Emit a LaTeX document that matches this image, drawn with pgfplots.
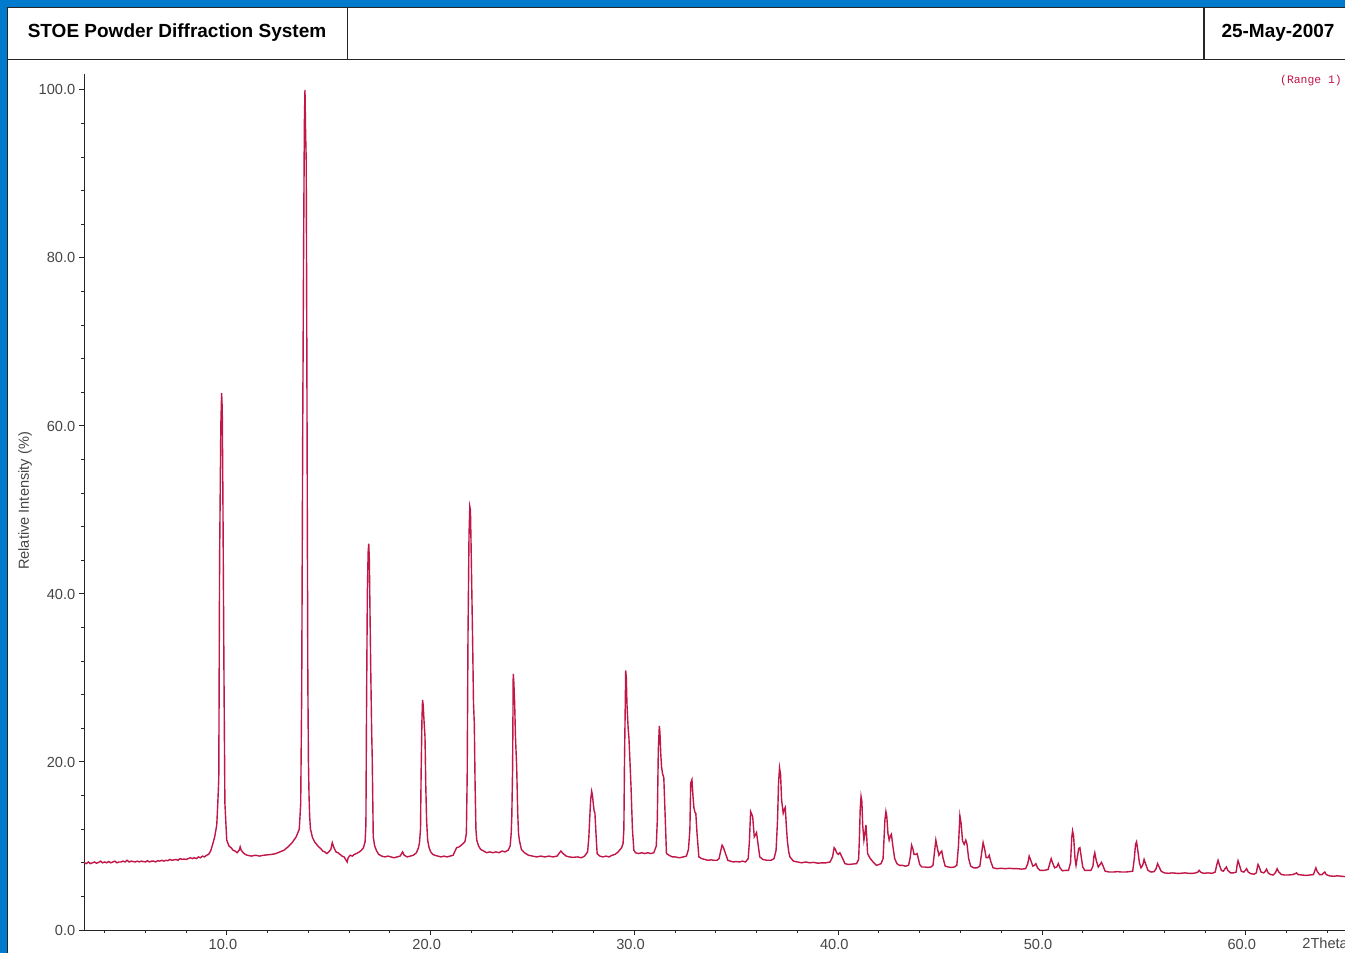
\documentclass[border=0pt]{standalone}
\usepackage{fontspec}
\setmainfont{Liberation Sans}
\newfontfamily\monofont{Liberation Mono}
\usepackage{pgfplots}
\pgfplotsset{compat=1.18}
\definecolor{winblue}{RGB}{0,122,204}
\definecolor{xrd}{RGB}{192,22,72}
\definecolor{ticktext}{RGB}{70,70,70}
\begin{document}
\begin{tikzpicture}[x=0.5pt,y=-0.5pt]
\useasboundingbox (0,0) rectangle (1345,953);
\fill[winblue] (0,0) rectangle (1345,953);
\fill[white] (7,7) rectangle (1350,960);
\draw[black!85, line width=0.6pt] (7.5,960) -- (7.5,7.5) -- (1350,7.5);
\draw[black!85, line width=0.6pt] (7.5,59.5) -- (1350,59.5);
\draw[black!85, line width=0.6pt] (347.5,7.5) -- (347.5,59.5);
\draw[black!85, line width=0.6pt] (1204,7.5) -- (1204,59.5);
\node[font=\bfseries\fontsize{9.5}{11}\selectfont] at (177,33) {STOE Powder Diffraction System};
\node[font=\bfseries\fontsize{9.5}{11}\selectfont] at (1278,33) {25-May-2007};
\node[font=\monofont\fontsize{5.7}{7}\selectfont, text=xrd] at (1311,81) {(Range 1)};
\node[rotate=90, font=\fontsize{7.3}{9}\selectfont, text=ticktext] at (25,501) {Relative Intensity (\%)};
\node[anchor=west, inner sep=0pt, font=\fontsize{7.3}{9}\selectfont, text=ticktext] at (1302,943) {2Theta};
\begin{axis}[
  at={(42.15pt,-465pt)}, anchor=south west,
  scale only axis, width=630.35pt, height=428pt,
  xmin=3, xmax=64.87, ymin=0, ymax=101.9,
  axis x line*=bottom, axis y line*=left,
  axis line style={black!85, line width=0.5pt},
  xtick={10,20,30,40,50,60}, ytick={0,20,40,60,80,100},
  minor xtick={4,6,8,12,14,16,18,22,24,26,28,32,34,36,38,42,44,46,48,52,54,56,58,62,64},
  minor ytick={4,8,12,16,24,28,32,36,44,48,52,56,64,68,72,76,84,88,92,96},
  tick align=outside, major tick length=2.5pt, minor tick length=1.6pt,
  tick style={black!85, line width=0.5pt},
  /pgf/number format/assume math mode=true,
  xticklabel style={font=\fontsize{7.3}{9}\selectfont, text=ticktext, xshift=-2pt, yshift=1.6pt, /pgf/number format/.cd, fixed, fixed zerofill, precision=1},
  yticklabel style={font=\fontsize{7.3}{9}\selectfont, text=ticktext, xshift=1.5pt, /pgf/number format/.cd, fixed, fixed zerofill, precision=1},
]
\addplot[color=xrd, line width=0.7pt, mark=none] coordinates {
(3.00,8.0) (3.1,7.9) (3.2,8.1) (3.3,7.9) (3.4,8.0) (3.5,8.1) (3.6,7.95) (3.7,8.05) (3.8,8.2) (3.9,8.0) (4.0,8.1) (4.1,8.0) (4.2,8.15) (4.3,8.0) (4.4,8.1) (4.5,8.2) (4.6,8.0) (4.7,8.1) (4.8,8.1) (4.9,8.2) (5.0,8.1) (5.1,8.3) (5.2,8.1) (5.3,8.2) (5.4,8.15) (5.5,8.1) (5.6,8.2) (5.7,8.1) (5.8,8.2) (5.9,8.15) (6.0,8.1) (6.1,8.25) (6.2,8.1) (6.3,8.2) (6.4,8.2) (6.5,8.1) (6.6,8.25) (6.7,8.2) (6.8,8.3) (6.9,8.2) (7.0,8.3) (7.1,8.25) (7.2,8.4) (7.3,8.3) (7.4,8.35) (7.5,8.4) (7.6,8.3) (7.7,8.5) (7.8,8.4) (7.9,8.45) (8.0,8.4) (8.1,8.5) (8.2,8.6) (8.3,8.5) (8.4,8.6) (8.5,8.5) (8.6,8.7) (8.7,8.6) (8.8,8.8) (8.9,8.7) (9.0,8.9) (9.1,9.0) (9.2,9.4) (9.3,10.2) (9.4,11.1) (9.5,12.5) (9.55,15) (9.6,18) (9.64,44) (9.67,52) (9.70,60) (9.74,63.9) (9.77,62) (9.80,52.4) (9.83,40) (9.86,28.4) (9.9,15.1) (9.99,10.7) (10.1,10.0) (10.2,9.8) (10.3,9.5) (10.4,9.4) (10.5,9.2) (10.6,9.5) (10.65,9.9) (10.7,9.5) (10.8,9.2) (10.9,9.0) (11.0,8.9) (11.2,8.8) (11.4,8.9) (11.6,8.8) (11.8,8.9) (12.0,8.95) (12.2,9.0) (12.4,9.1) (12.6,9.3) (12.8,9.5) (13.0,9.9) (13.2,10.4) (13.4,11.1) (13.55,12.0) (13.62,15) (13.67,28.6) (13.72,60) (13.76,80) (13.80,96) (13.83,100) (13.86,95) (13.89,91.7) (13.92,70) (13.95,45) (13.97,29.8) (14.0,20) (14.03,15.9) (14.06,13.5) (14.1,12) (14.2,11.0) (14.3,10.5) (14.4,10.2) (14.5,9.9) (14.6,9.7) (14.7,9.4) (14.8,9.3) (14.9,9.1) (15.0,9.3) (15.1,9.6) (15.17,10.4) (15.25,9.8) (15.35,9.3) (15.45,9.2) (15.55,9.0) (15.65,8.8) (15.75,8.7) (15.85,8.3) (15.9,8.1) (15.95,8.6) (16.05,8.9) (16.15,8.8) (16.25,9.0) (16.35,9.1) (16.5,9.3) (16.6,9.5) (16.7,9.8) (16.78,10.5) (16.82,12.5) (16.85,26) (16.89,40) (16.93,45) (16.96,46) (16.99,44) (17.02,38) (17.06,30.6) (17.10,24) (17.13,20.5) (17.16,15) (17.18,11.1) (17.25,10.0) (17.35,9.4) (17.45,9.0) (17.6,8.8) (17.75,8.7) (17.9,8.8) (18.05,8.7) (18.2,8.6) (18.35,8.7) (18.5,8.8) (18.62,9.3) (18.7,8.9) (18.85,8.7) (19.0,8.8) (19.15,8.9) (19.3,9.2) (19.4,9.8) (19.45,10.4) (19.5,12) (19.53,18.7) (19.57,25) (19.6,27.4) (19.63,26.8) (19.67,25) (19.72,23) (19.76,17) (19.8,13) (19.85,10.7) (19.92,9.8) (20.0,9.3) (20.1,9.0) (20.2,8.9) (20.35,8.8) (20.5,8.7) (20.65,8.8) (20.8,8.7) (20.95,8.8) (21.1,8.9) (21.27,9.8) (21.4,9.9) (21.55,10.2) (21.68,10.5) (21.75,11.5) (21.79,18.2) (21.83,35) (21.88,47) (21.92,50.4) (21.95,50.0) (21.98,46) (22.02,40) (22.06,34) (22.10,27) (22.14,24.6) (22.18,17) (22.22,12) (22.26,10.7) (22.35,10.0) (22.45,9.6) (22.6,9.4) (22.75,9.2) (22.9,9.3) (23.05,9.2) (23.2,9.3) (23.35,9.2) (23.5,9.4) (23.65,9.3) (23.8,9.5) (23.9,10.0) (23.95,11.5) (23.98,13.5) (24.02,19.4) (24.05,30.5) (24.08,29.5) (24.12,27) (24.16,23) (24.22,19.4) (24.27,14) (24.31,11.5) (24.35,10.7) (24.45,9.6) (24.6,9.2) (24.8,8.9) (25.0,8.8) (25.2,8.7) (25.4,8.8) (25.6,8.7) (25.8,8.8) (26.0,8.7) (26.2,8.8) (26.39,9.4) (26.5,9.1) (26.65,8.8) (26.8,8.7) (27.0,8.65) (27.2,8.7) (27.4,8.6) (27.55,8.8) (27.7,9.3) (27.76,11) (27.8,13.1) (27.85,15.5) (27.9,16.5) (27.94,16.0) (27.98,15.0) (28.02,14.2) (28.06,13.9) (28.1,12) (28.14,10.2) (28.17,9.1) (28.3,8.8) (28.45,8.7) (28.6,8.8) (28.75,8.7) (28.9,8.9) (29.05,9.0) (29.2,9.3) (29.37,9.8) (29.44,10.3) (29.48,12) (29.51,20) (29.54,25.4) (29.57,30.9) (29.60,30.0) (29.63,27) (29.65,26) (29.69,24) (29.73,22.8) (29.78,20) (29.83,17.1) (29.9,12) (29.97,9.5) (30.05,9.2) (30.2,9.1) (30.35,9.2) (30.5,9.1) (30.65,9.2) (30.8,9.1) (30.95,9.2) (31.07,10) (31.12,13) (31.17,21.4) (31.22,24.3) (31.25,23.5) (31.29,21) (31.33,19.4) (31.38,18.6) (31.44,18.1) (31.5,14) (31.57,9.1) (31.7,8.9) (31.85,8.7) (32.0,8.7) (32.2,8.6) (32.4,8.7) (32.55,8.8) (32.65,9.6) (32.72,12) (32.76,17.5) (32.82,17.9) (32.87,16) (32.92,14.5) (32.97,14.0) (33.01,13.9) (33.07,11.5) (33.16,8.7) (33.3,8.5) (33.45,8.4) (33.6,8.3) (33.75,8.35) (33.9,8.3) (34.05,8.3) (34.15,8.5) (34.25,9.6) (34.3,10.1) (34.37,9.8) (34.44,9.3) (34.58,8.3) (34.7,8.2) (34.85,8.1) (35.0,8.15) (35.15,8.1) (35.3,8.2) (35.45,8.1) (35.58,8.5) (35.64,10.5) (35.7,14.1) (35.75,13.8) (35.8,13.5) (35.88,11.1) (35.93,11.3) (35.99,11.6) (36.06,10.3) (36.15,8.7) (36.3,8.4) (36.5,8.3) (36.7,8.3) (36.85,8.5) (36.95,9.5) (37.02,13) (37.07,17.5) (37.12,19.3) (37.17,18.5) (37.22,15.5) (37.3,13.9) (37.36,14.4) (37.4,14.6) (37.45,12.5) (37.5,10.7) (37.57,9.3) (37.63,8.7) (37.8,8.2) (38.0,8.1) (38.2,8.0) (38.4,8.1) (38.6,8.0) (38.8,8.05) (39.0,7.95) (39.2,8.0) (39.4,8.0) (39.6,8.1) (39.72,8.7) (39.8,9.8) (39.86,9.6) (39.92,9.2) (40.0,9.0) (40.08,9.2) (40.2,8.6) (40.33,7.9) (40.5,7.8) (40.7,7.85) (40.9,7.9) (41.0,8.4) (41.04,11) (41.08,14.5) (41.12,15.9) (41.16,15.3) (41.2,12.5) (41.26,10.7) (41.31,11.5) (41.36,12.5) (41.4,11) (41.44,9.1) (41.55,8.6) (41.64,8.3) (41.75,8.0) (41.88,7.7) (42.0,7.8) (42.1,7.9) (42.2,8.5) (42.25,11) (42.29,13.1) (42.34,14.1) (42.38,13.6) (42.44,11.5) (42.5,10.7) (42.56,11.2) (42.61,11.4) (42.68,10.0) (42.77,8.5) (42.88,7.9) (43.0,7.7) (43.15,7.7) (43.3,7.6) (43.45,7.7) (43.53,8.6) (43.6,10.1) (43.66,9.7) (43.72,9.0) (43.8,9.0) (43.87,9.1) (43.93,8.5) (44.0,7.8)
(44.1,7.5) (44.25,7.5) (44.4,7.45) (44.55,7.5) (44.65,7.7) (44.72,9.2) (44.79,10.7) (44.86,9.8) (44.94,8.9) (45.01,9.2) (45.08,9.4) (45.15,8.5) (45.25,7.6) (45.4,7.5) (45.55,7.45) (45.7,7.5) (45.82,7.7) (45.9,10.0) (45.97,13.6) (46.03,12.7) (46.1,10.6) (46.18,10.2) (46.26,10.7) (46.32,10.2) (46.4,8.5) (46.5,7.6) (46.65,7.4) (46.8,7.4) (46.95,7.6) (47.05,9.4) (47.11,10.4) (47.18,9.7) (47.26,8.6) (47.34,8.6) (47.41,8.9) (47.48,8.2) (47.6,7.4) (47.8,7.3) (48.0,7.35) (48.2,7.3) (48.4,7.35) (48.6,7.3) (48.8,7.3) (49.0,7.25) (49.2,7.3) (49.3,7.9) (49.37,8.8) (49.45,8.3) (49.55,7.6) (49.63,7.7) (49.7,7.9) (49.78,7.4) (49.9,7.1) (50.1,7.1) (50.3,7.2) (50.38,7.9) (50.45,8.5) (50.52,8.0) (50.62,7.4) (50.72,7.5) (50.8,7.9) (50.88,7.4) (51.0,7.05) (51.15,7.1) (51.3,7.1) (51.4,8.0) (51.46,11.0) (51.5,11.8) (51.55,11.2) (51.62,8.5) (51.67,7.7) (51.73,8.6) (51.8,9.7) (51.86,9.8) (51.92,8.8) (52.0,7.5) (52.1,7.1) (52.25,7.1) (52.4,7.1) (52.5,7.6) (52.55,8.8) (52.59,9.2) (52.66,8.3) (52.76,7.5) (52.85,7.8) (52.92,8.05) (53.0,7.6) (53.1,7.0) (53.3,6.9) (53.5,6.9) (53.7,6.95) (53.9,6.9) (54.1,6.9) (54.3,6.95) (54.45,7.0) (54.53,8.5) (54.59,10.2) (54.64,10.5) (54.7,9.5) (54.78,8.0) (54.86,7.4) (54.94,7.7) (55.01,8.4) (55.08,7.9) (55.2,7.1) (55.35,6.9) (55.5,6.95) (55.6,7.3) (55.67,7.9) (55.75,7.5) (55.85,7.0) (56.0,6.8) (56.2,6.75) (56.4,6.8) (56.6,6.75) (56.8,6.75) (57.0,6.8) (57.2,6.75) (57.4,6.75) (57.55,6.8) (57.65,6.9) (57.71,7.1) (57.8,6.85) (57.95,6.75) (58.15,6.8) (58.35,6.75) (58.5,6.9) (58.58,7.8) (58.64,8.3) (58.7,7.8) (58.8,7.1) (58.9,7.0) (58.98,7.3) (59.05,7.5) (59.12,7.1) (59.25,6.8) (59.4,6.8) (59.53,6.9) (59.58,7.8) (59.62,8.25) (59.68,7.8) (59.78,7.0) (59.9,6.9) (59.98,7.1) (60.04,7.3) (60.12,6.9) (60.25,6.7) (60.4,6.65) (60.52,6.8) (60.57,7.5) (60.6,7.8) (60.66,7.5) (60.75,6.9) (60.88,6.8) (60.96,7.0) (61.02,7.25) (61.1,6.8) (61.22,6.6) (61.35,6.55) (61.45,6.8) (61.54,7.3) (61.62,6.9) (61.75,6.6) (61.9,6.55) (62.1,6.55) (62.3,6.6) (62.42,6.7) (62.49,6.8) (62.57,6.6) (62.75,6.55) (62.95,6.5) (63.15,6.55) (63.32,6.6) (63.38,7.0) (63.44,7.4) (63.5,7.0) (63.62,6.6) (63.75,6.6) (63.83,6.8) (63.88,6.9) (63.95,6.6) (64.1,6.45) (64.3,6.4) (64.5,6.45) (64.7,6.4) (64.9,6.35)
};
\end{axis}
\end{tikzpicture}
\end{document}
